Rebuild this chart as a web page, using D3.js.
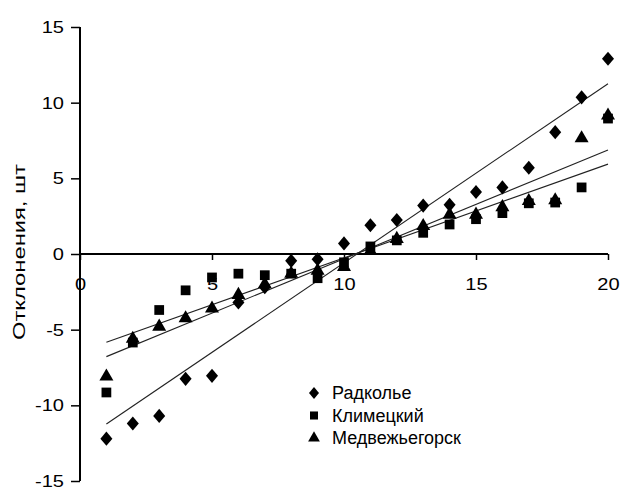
<!DOCTYPE html>
<html>
<head>
<meta charset="utf-8">
<script src="https://cdn.jsdelivr.net/npm/d3@7/dist/d3.min.js"></script>
<style>
  html, body { margin: 0; padding: 0; background: #fff; }
  svg { display: block; }
  text { font-family: "Liberation Sans", Arial, sans-serif; fill: #000; }
</style>
</head>
<body>
<svg id="chart" width="620" height="490"></svg>
<script>
// ---- data ----
const xValues = [1,2,3,4,5,6,7,8,9,10,11,12,13,14,15,16,17,18,19,20];
const radkolye = [-12.2,-11.2,-10.7,-8.25,-8.05,-3.2,-2.2,-0.45,-0.35,0.7,1.9,2.25,3.2,3.25,4.1,4.4,5.7,8.05,10.35,12.9];
const klimetsky = [-9.15,-5.85,-3.7,-2.4,-1.55,-1.3,-1.4,-1.3,-1.6,-0.55,0.5,0.9,1.4,1.95,2.3,2.7,3.35,3.4,4.4,8.95];
const medvezhyegorsk = [-8.1,-5.6,-4.8,-4.25,-3.6,-2.7,-2.0,-1.3,-1.1,-0.85,0.2,1.0,1.85,2.6,2.6,3.1,3.5,3.55,7.65,9.15];
const seriesNames = ["Радколье", "Климецкий", "Медвежьегорск"];
const xTicks = [0,5,10,15,20];
const yTicks = [-15,-10,-5,0,5,10,15];
const yTitle = "Отклонения, шт";

// ---- layout ----
const svg = d3.select("#chart");
const x = d3.scaleLinear().domain([0,20]).range([80,608]);
const y = d3.scaleLinear().domain([-15,15]).range([481,27]);
const fmt = d => String(d);   // plain hyphen-minus as in the reference
const labelStretch = 1.18;

// custom diamond (wider than d3's)
const diamond = {
  draw(ctx, size) {
    const h = Math.sqrt(size) * 0.62, w = h * 0.85;
    ctx.moveTo(0,-h); ctx.lineTo(w,0); ctx.lineTo(0,h); ctx.lineTo(-w,0); ctx.closePath();
  }
};
const symbols = [diamond, d3.symbolSquare, d3.symbolTriangle];
const sizes = [130, 95, 85];
const legendSizes = [90, 65, 60];
const data = [radkolye, klimetsky, medvezhyegorsk];

// ---- axes ----
const ySize = 9, yPad = 7;
const gY = svg.append("g").attr("transform", `translate(${x(0)},0)`)
  .call(d3.axisLeft(y).tickValues(yTicks).tickSize(ySize).tickPadding(yPad).tickFormat(fmt));
gY.select(".domain").attr("stroke-width", 2).attr("d", `M0,${y(15)}V${y(-15)}`);
gY.selectAll(".tick line").attr("stroke-width", 1.5);
gY.selectAll(".tick text").style("font-size", "17px")
  .attr("x", -(ySize + yPad) / labelStretch)
  .attr("transform", `scale(${labelStretch},1)`);

const gX = svg.append("g").attr("transform", `translate(0,${y(0)})`)
  .call(d3.axisBottom(x).tickValues(xTicks).tickSize(6).tickPadding(18).tickFormat(fmt));
gX.select(".domain").attr("stroke-width", 2).attr("d", `M${x(0)},0H${x(20)}`);
gX.selectAll(".tick line").attr("stroke-width", 1.5);
gX.selectAll(".tick text").style("font-size", "17px")
  .attr("transform", `scale(${labelStretch},1)`);

// y title
svg.append("text")
  .attr("transform", `translate(25,${y(0)-2}) rotate(-90)`)
  .attr("text-anchor", "middle")
  .attr("textLength", 176).attr("lengthAdjust", "spacingAndGlyphs")
  .style("font-size", "17px")
  .text(yTitle);

// ---- trend lines (least squares) ----
function fit(ys) {
  const mx = d3.mean(xValues), my = d3.mean(ys);
  let sxy = 0, sxx = 0;
  xValues.forEach((xv,i) => { sxy += (xv-mx)*(ys[i]-my); sxx += (xv-mx)*(xv-mx); });
  const b = sxy/sxx; return { b, a: my - b*mx };
}
data.forEach(ys => {
  const f = fit(ys);
  const x0 = d3.min(xValues), x1 = d3.max(xValues);
  svg.append("line")
    .attr("x1", x(x0)).attr("y1", y(f.a + f.b*x0))
    .attr("x2", x(x1)).attr("y2", y(f.a + f.b*x1))
    .attr("stroke", "#222").attr("stroke-width", 1.1);
});

// ---- points ----
data.forEach((ys, s) => {
  svg.append("g").selectAll("path").data(ys).join("path")
    .attr("transform", (d,i) => `translate(${x(xValues[i])},${y(d)})`)
    .attr("d", d3.symbol().type(symbols[s]).size(sizes[s])())
    .attr("fill", "#000");
});

// ---- legend ----
const lg = svg.append("g").attr("transform", "translate(314,393)");
seriesNames.forEach((name, i) => {
  const row = lg.append("g").attr("transform", `translate(0,${i*22.5})`);
  row.append("path").attr("d", d3.symbol().type(symbols[i]).size(legendSizes[i])()).attr("fill", "#000");
  row.append("text").attr("x", 18).attr("dy", "0.35em").style("font-size", "18px").text(name);
});
</script>
</body>
</html>
